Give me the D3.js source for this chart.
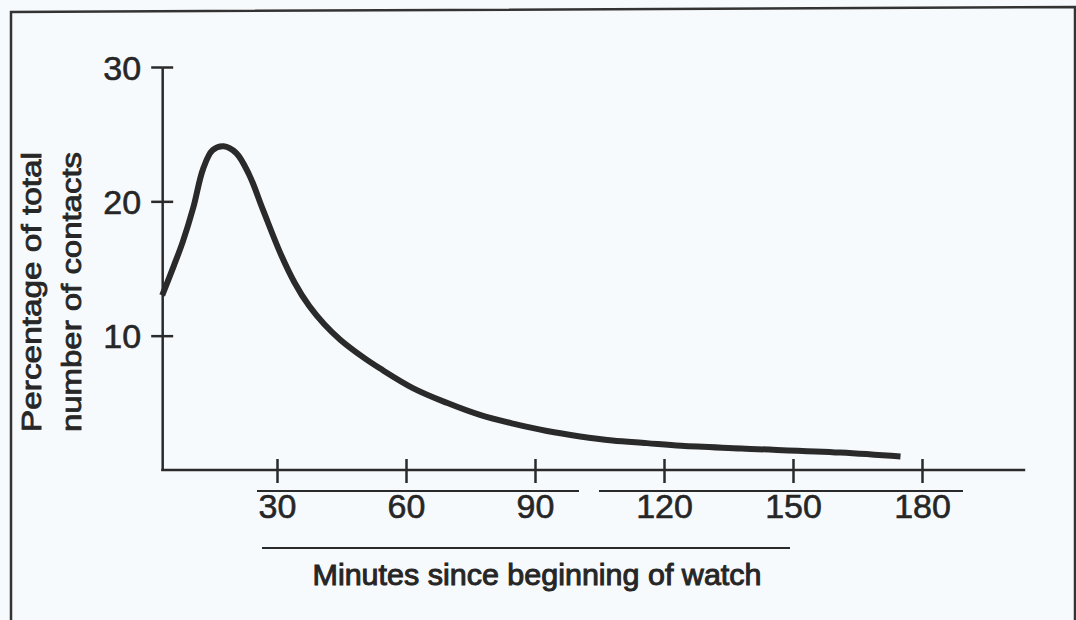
<!DOCTYPE html>
<html>
<head>
<meta charset="utf-8">
<script src="https://cdn.jsdelivr.net/npm/d3@7"></script>
<style>
  html, body { margin: 0; padding: 0; background: #f7fafd; }
  svg { display: block; }
  text { font-family: "Liberation Sans", Arial, sans-serif; fill: #262626; }
</style>
</head>
<body>
<div id="chart"></div>
<script>
// minutes since beginning of watch
let minutes = [3.3, 6, 8.1, 10.5, 12.8, 15, 17.6, 20.5, 23.5, 26.7, 30.7, 34, 37.5, 41, 44.7, 50, 54, 61.6, 69.5, 77.2, 84.9, 92.8, 100.5, 108, 116, 124, 138, 161, 175]
// percentage of total number of contacts
let percent = [13.0, 15.2, 17.0, 19.5, 22.4, 23.8, 24.1, 23.6, 22.0, 19.4, 16.2, 14.0, 12.2, 10.85, 9.7, 8.4, 7.55, 6.1, 5.0, 4.1, 3.45, 2.9, 2.5, 2.2, 2.0, 1.8, 1.6, 1.3, 1.0]

let xTicks = [30, 60, 90, 120, 150, 180]
let yTicks = [10, 20, 30]
let xLabel = "Minutes since beginning of watch"
let yLabel = ["Percentage of total", "number of contacts"]

;(function() {
    let w = 1076, h = 620
    let ink = "#2a2a2a"

    let svg = d3.select("#chart")
                .append("svg")
                .attr("width", w)
                .attr("height", h)

    let x = d3.scaleLinear().domain([0, 180]).range([148, 922])
    let y = d3.scaleLinear().domain([0, 30]).range([470, 67])

    let x0 = x(minutes[0])    // y axis sits where the curve starts
    let xEnd = x(204)

    // scanned page frame
    svg.append("path")
       .attr("d", "M11,620 L11,12 L1075,7 L1075,620")
       .attr("fill", "none")
       .attr("stroke", "#333")
       .attr("stroke-width", 2.5)

    // y axis
    let yAxis = d3.axisLeft(y)
                  .tickValues(yTicks)
                  .tickSize(11)
                  .tickSizeOuter(0)
                  .tickPadding(10)

    let gy = svg.append("g")
                .attr("transform", "translate(" + x0 + ",0)")
                .call(yAxis)
    gy.select(".domain").attr("stroke", ink).attr("stroke-width", 2.5)
    gy.selectAll(".tick line").attr("stroke", ink).attr("stroke-width", 2.5)
    gy.selectAll(".tick").append("line")
      .attr("x2", 11)
      .attr("stroke", ink)
      .attr("stroke-width", 2.5)
    gy.selectAll(".tick text")
      .attr("font-size", 34)
      .attr("font-family", "Liberation Sans, Arial, sans-serif")
      .attr("fill", "#262626")
      .attr("stroke", "#262626")
      .attr("stroke-width", 0.6)
      .attr("dy", "0.36em")

    // x axis
    svg.append("line")
       .attr("x1", x0 - 1).attr("x2", xEnd)
       .attr("y1", y(0)).attr("y2", y(0))
       .attr("stroke", ink)
       .attr("stroke-width", 2.5)

    let xAxis = d3.axisBottom(x)
                  .tickValues(xTicks)
                  .tickSize(13)
                  .tickSizeOuter(0)
                  .tickPadding(11)

    let gx = svg.append("g")
                .attr("transform", "translate(0," + y(0) + ")")
                .call(xAxis)
    gx.select(".domain").remove()
    gx.selectAll(".tick line").attr("stroke", ink).attr("stroke-width", 2.5)
    gx.selectAll(".tick").append("line")
      .attr("y2", -11)
      .attr("stroke", ink)
      .attr("stroke-width", 2.5)
    gx.selectAll(".tick text")
      .attr("font-size", 34)
      .attr("font-family", "Liberation Sans, Arial, sans-serif")
      .attr("fill", "#262626")
      .attr("stroke", "#262626")
      .attr("stroke-width", 0.6)

    // rules printed under the tick labels
    let rules = [[257, 579, 491], [599, 963, 491], [262, 790, 548]]
    svg.selectAll("line.rule")
       .data(rules)
       .enter()
       .append("line")
       .attr("class", "rule")
       .attr("x1", d => d[0]).attr("x2", d => d[1])
       .attr("y1", d => d[2]).attr("y2", d => d[2])
       .attr("stroke", ink)
       .attr("stroke-width", 2)

    // the curve
    let line = d3.line()
                 .x(d => x(d[0]))
                 .y(d => y(d[1]))
                 .curve(d3.curveCatmullRom.alpha(0.5))

    svg.append("path")
       .datum(minutes.map((m, i) => [m, percent[i]]))
       .attr("d", line)
       .attr("fill", "none")
       .attr("stroke", ink)
       .attr("stroke-width", 6)
       .attr("stroke-linejoin", "round")

    // axis titles
    svg.append("text")
       .text(xLabel)
       .attr("x", 537)
       .attr("y", 585)
       .attr("text-anchor", "middle")
       .attr("font-size", 30)
       .attr("textLength", 449)
       .attr("lengthAdjust", "spacingAndGlyphs")
       .attr("stroke", "#262626")
       .attr("stroke-width", 1)

    svg.selectAll("text.ylab")
       .data(yLabel)
       .enter()
       .append("text")
       .attr("class", "ylab")
       .text(d => d)
       .attr("transform", (d, i) => "translate(" + (41 + i * 40) + ",292) rotate(-90)")
       .attr("text-anchor", "middle")
       .attr("font-size", 27)
       .attr("textLength", 280)
       .attr("lengthAdjust", "spacingAndGlyphs")
       .attr("stroke", "#262626")
       .attr("stroke-width", 0.8)
})()
</script>
</body>
</html>
